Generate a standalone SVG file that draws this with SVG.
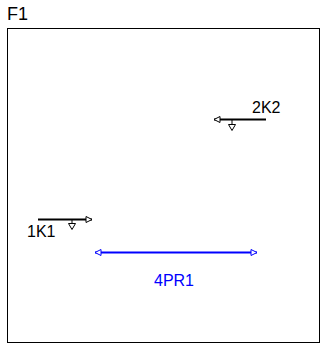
<svg xmlns="http://www.w3.org/2000/svg" width="320" height="345" viewBox="0 0 320 345">
<defs>
<style>
text{font-family:"Liberation Sans",Arial,sans-serif;}
.lbl{font-size:16px;fill:#000;}
.blue{font-size:16px;fill:#0000ff;}
.ln{stroke:#000;stroke-width:2;fill:none;}
.bln{stroke:#0000ff;stroke-width:2;fill:none;}
.tri{stroke:#000;stroke-width:1;fill:#fff;}
</style>
<marker id="openK" markerWidth="10" markerHeight="10" refX="7" refY="4" orient="auto-start-reverse" markerUnits="userSpaceOnUse">
<path d="M1,1 L7,4 L1,7 Z" fill="#fff" stroke="#000" stroke-width="1"/>
</marker>
<marker id="openB" markerWidth="10" markerHeight="10" refX="7" refY="4" orient="auto-start-reverse" markerUnits="userSpaceOnUse">
<path d="M1,1 L7,4 L1,7 Z" fill="#fff" stroke="#0000ff" stroke-width="1"/>
</marker>
</defs>
<rect width="320" height="345" fill="#fff"/>
<g id="F1">
<rect x="7.5" y="28.5" width="312" height="314" fill="none" stroke="#000" stroke-width="1"/>
<text x="7" y="20" style="font-size:18px">F1</text>
</g>
<g id="connectors">
<line class="ln" x1="266" y1="119.5" x2="214" y2="119.5" marker-end="url(#openK)"/>
<line class="ln" x1="38" y1="219.5" x2="92" y2="219.5" marker-end="url(#openK)"/>
<line class="bln" x1="95" y1="252.5" x2="257" y2="252.5" marker-start="url(#openB)" marker-end="url(#openB)"/>
</g>
<g id="K2">
<path class="tri" d="M232,120 V124 M228.5,124.5 H235.5 L232,130.5 Z"/>
<text class="lbl" x="252" y="113">2K2</text>
</g>
<g id="K1">
<path class="tri" d="M72,220 V223 M68.5,223.5 H75.5 L72,229.5 Z"/>
<text class="lbl" x="27" y="237">1K1</text>
</g>
<g id="PR1">
<text class="blue" x="174" y="286" text-anchor="middle">4PR1</text>
</g>
</svg>
